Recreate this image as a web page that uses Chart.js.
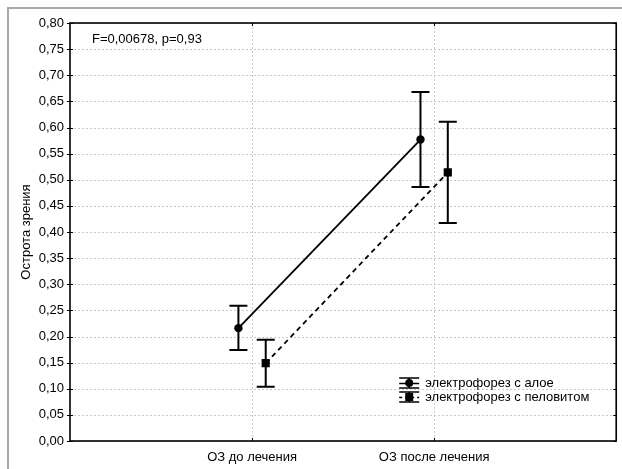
<!DOCTYPE html>
<html>
<head>
<meta charset="utf-8">
<script src="https://cdn.jsdelivr.net/npm/chart.js@4.4.0/dist/chart.umd.min.js"></script>
<style>
  html, body { margin: 0; padding: 0; background: #fff; }
  #wrap { width: 622px; height: 469px; }
</style>
</head>
<body>
<div id="wrap"><canvas id="chart" width="622" height="469"></canvas></div>
<script>
/* --------- データ --------- */
const categories = ["ОЗ до лечения", "ОЗ после лечения"];
const seriesNames = ["электрофорез с алое", "электрофорез с пеловитом"];

// 電気泳動 + アロエ
const aloeMean = [0.216, 0.577];
const aloeLow = [0.174, 0.486];
const aloeHigh = [0.259, 0.668];

// 電気泳動 + ペロビット
const peloMean = [0.149, 0.514];
const peloLow = [0.104, 0.417];
const peloHigh = [0.194, 0.611];

const yTicks = [0, 0.05, 0.1, 0.15, 0.2, 0.25, 0.3, 0.35, 0.4, 0.45, 0.5, 0.55, 0.6, 0.65, 0.7, 0.75, 0.8];
const yTitle = "Острота зрения";
const statText = "F=0,00678, p=0,93";

/* --------- 見た目 --------- */
const FONT = "Liberation Sans, Arial, sans-serif";
const SHIFT = 0.075; // 系列ごとの横ずれ
const CAP = 9;       // エラーバーのキャップ半幅

function fmt(v) {
  return v.toFixed(2).replace(".", ",");
}

function points(means, dx) {
  return means.map((m, i) => ({ x: i + 1 + dx, y: m }));
}

/* --------- プラグイン（枠・グリッド・エラーバー・凡例） --------- */
const decorPlugin = {
  id: "decor",
  beforeDraw(chart) {
    const { ctx } = chart;
    ctx.save();
    ctx.fillStyle = "#fff";
    ctx.fillRect(0, 0, chart.width, chart.height);
    // 外側の灰色の枠
    ctx.fillStyle = "#a8a8a8";
    ctx.fillRect(7, 7, 2, chart.height - 7);
    ctx.fillRect(7, 7, chart.width - 7, 2);
    ctx.restore();
  },
  beforeDatasetsDraw(chart) {
    const { ctx, chartArea: a, scales: { x, y } } = chart;
    ctx.save();
    // グリッド（点線）
    ctx.strokeStyle = "#c8c8c8";
    ctx.lineWidth = 1;
    ctx.setLineDash([2, 2]);
    y.ticks.forEach((t) => {
      const py = Math.round(y.getPixelForValue(t.value)) + 0.5;
      ctx.beginPath();
      ctx.moveTo(a.left, py);
      ctx.lineTo(a.right, py);
      ctx.stroke();
    });
    x.ticks.forEach((t) => {
      const px = Math.round(x.getPixelForValue(t.value)) + 0.5;
      ctx.beginPath();
      ctx.moveTo(px, a.top);
      ctx.lineTo(px, a.bottom);
      ctx.stroke();
    });
    ctx.setLineDash([]);

    // エラーバー
    ctx.strokeStyle = "#000";
    ctx.lineWidth = 2;
    const bars = [
      [aloeMean, aloeLow, aloeHigh, -SHIFT],
      [peloMean, peloLow, peloHigh, SHIFT],
    ];
    bars.forEach(([m, lo, hi, dx]) => {
      m.forEach((_, i) => {
        const px = x.getPixelForValue(i + 1 + dx);
        const pLo = y.getPixelForValue(lo[i]);
        const pHi = y.getPixelForValue(hi[i]);
        ctx.beginPath();
        ctx.moveTo(px, pLo);
        ctx.lineTo(px, pHi);
        ctx.moveTo(px - CAP, pLo);
        ctx.lineTo(px + CAP, pLo);
        ctx.moveTo(px - CAP, pHi);
        ctx.lineTo(px + CAP, pHi);
        ctx.stroke();
      });
    });
    ctx.restore();
  },
  afterDraw(chart) {
    const { ctx, chartArea: a, scales: { x, y } } = chart;
    ctx.save();
    // プロット枠
    ctx.strokeStyle = "#000";
    ctx.lineWidth = 1.6;
    ctx.strokeRect(a.left, a.top, a.right - a.left, a.bottom - a.top);

    // 目盛り線
    ctx.lineWidth = 1;
    y.ticks.forEach((t) => {
      const py = Math.round(y.getPixelForValue(t.value)) + 0.5;
      ctx.beginPath();
      ctx.moveTo(a.left - 3, py);
      ctx.lineTo(a.left + 3, py);
      ctx.moveTo(a.right - 3, py);
      ctx.lineTo(a.right, py);
      ctx.stroke();
    });
    x.ticks.forEach((t) => {
      const px = Math.round(x.getPixelForValue(t.value)) + 0.5;
      ctx.beginPath();
      ctx.moveTo(px, a.bottom);
      ctx.lineTo(px, a.bottom - 3);
      ctx.moveTo(px, a.top);
      ctx.lineTo(px, a.top + 3);
      ctx.stroke();
    });

    // 統計テキスト
    ctx.fillStyle = "#000";
    ctx.font = "13px " + FONT;
    ctx.textBaseline = "alphabetic";
    ctx.textAlign = "left";
    ctx.fillText(statText, a.left + 22, a.top + 20);

    // 凡例
    const lx = a.right - 207;
    const rows = [a.bottom - 58, a.bottom - 44];
    rows.forEach((ry, k) => {
      ctx.strokeStyle = "#000";
      ctx.lineWidth = 1.5;
      ctx.beginPath();
      ctx.moveTo(lx - 10, ry - 5);
      ctx.lineTo(lx + 10, ry - 5);
      ctx.moveTo(lx - 10, ry + 5);
      ctx.lineTo(lx + 10, ry + 5);
      ctx.moveTo(lx, ry - 5);
      ctx.lineTo(lx, ry + 5);
      ctx.stroke();
      if (k === 1) ctx.setLineDash([3, 3]);
      ctx.beginPath();
      ctx.moveTo(lx - 10, ry + 0.5);
      ctx.lineTo(lx + 10, ry + 0.5);
      ctx.stroke();
      ctx.setLineDash([]);
      ctx.fillStyle = "#000";
      if (k === 0) {
        ctx.beginPath();
        ctx.arc(lx, ry, 4, 0, Math.PI * 2);
        ctx.fill();
      } else {
        ctx.fillRect(lx - 4, ry - 4, 8, 8);
      }
      ctx.textBaseline = "middle";
      ctx.fillText(seriesNames[k], lx + 16, ry);
    });
    ctx.restore();
  },
};

/* --------- グラフ描画 --------- */
new Chart(document.getElementById("chart"), {
  type: "scatter",
  data: {
    datasets: [
      {
        label: seriesNames[0],
        data: points(aloeMean, -SHIFT),
        showLine: true,
        borderColor: "#000",
        borderWidth: 1.8,
        pointStyle: "circle",
        pointRadius: 4.2,
        pointBackgroundColor: "#000",
        pointBorderWidth: 0,
      },
      {
        label: seriesNames[1],
        data: points(peloMean, SHIFT),
        showLine: true,
        borderColor: "#000",
        borderWidth: 1.8,
        borderDash: [5, 4],
        pointStyle: "rect",
        pointRadius: 5.8,
        pointBackgroundColor: "#000",
        pointBorderWidth: 0,
      },
    ],
  },
  options: {
    responsive: false,
    animation: false,
    layout: { padding: { top: 23, right: 4, left: 0, bottom: 0 } },
    plugins: {
      legend: { display: false },
      tooltip: { enabled: false },
    },
    scales: {
      x: {
        type: "linear",
        min: 0,
        max: 3,
        afterBuildTicks: (s) => {
          s.ticks = categories.map((_, i) => ({ value: i + 1 }));
        },
        afterFit: (s) => {
          s.height = 28;
        },
        ticks: {
          callback: (v) => categories[v - 1] ?? "",
          color: "#000",
          font: { family: FONT, size: 13 },
          padding: 9,
          maxRotation: 0,
        },
        grid: { display: false, drawTicks: false },
        border: { display: false },
      },
      y: {
        min: 0,
        max: 0.8,
        afterBuildTicks: (s) => {
          s.ticks = yTicks.map((v) => ({ value: v }));
        },
        afterFit: (s) => {
          s.width = 70;
        },
        ticks: {
          callback: (v) => fmt(v),
          color: "#000",
          font: { family: FONT, size: 13 },
          padding: 6,
        },
        title: {
          display: true,
          text: yTitle,
          color: "#000",
          font: { family: FONT, size: 13 },
          padding: { top: 19, bottom: 0 },
        },
        grid: { display: false, drawTicks: false },
        border: { display: false },
      },
    },
  },
  plugins: [decorPlugin],
});
</script>
</body>
</html>
